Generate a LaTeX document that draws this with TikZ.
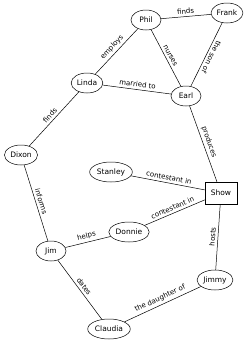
\documentclass[tikz,border=0pt]{standalone}
\usepackage{fontspec}
\setmainfont{DejaVu Sans}
\usetikzlibrary{shapes.geometric}

\begin{document}
\begin{tikzpicture}[x=1pt,y=-1pt,line width=0.5pt,
  person/.style={draw,ellipse,inner sep=1pt,minimum width=30pt,minimum height=20pt,font=\fontsize{7.5}{8}\selectfont},
  thing/.style={draw,rectangle,minimum width=32pt,minimum height=22pt,font=\fontsize{7.5}{8}\selectfont},
  rel/.style={sloped,above,inner sep=2.5pt,font=\fontsize{7}{8}\selectfont}]
  \useasboundingbox (0,0) rectangle (250,343);
  \node[person] (phil) at (146,20) {Phil};
  \node[person] (frank) at (227,13) {Frank};
  \node[person] (linda) at (87,83) {Linda};
  \node[person] (earl) at (186,96) {Earl};
  \node[person] (dixon) at (21,155) {Dixon};
  \node[person] (stanley) at (111,172) {Stanley};
  \node[thing] (show) at (221,193) {Show};
  \node[person] (donnie) at (129,232) {Donnie};
  \node[person] (jim) at (51,251) {Jim};
  \node[person] (jimmy) at (215,280) {Jimmy};
  \node[person] (claudia) at (109,329) {Claudia};
  \draw (phil) -- node[rel] {finds} (frank);
  \draw (linda) -- node[rel] {employs} (phil);
  \draw (phil) -- node[rel] {nurses} (earl);
  \draw (frank) -- node[rel,allow upside down] {the son of} (earl);
  \draw (linda) -- node[rel] {married to} (earl);
  \draw (dixon) -- node[rel] {finds} (linda);
  \draw (earl) -- node[rel] {produces} (show);
  \draw (stanley) -- node[rel] {contestant in} (show);
  \draw (dixon) -- node[rel] {informs} (jim);
  \draw (jim) -- node[rel] {helps} (donnie);
  \draw (donnie) -- node[rel] {contestant in} (show);
  \draw (jimmy) -- node[rel] {hosts} (show);
  \draw (jim) -- node[rel] {dates} (claudia);
  \draw (claudia) -- node[rel] {the daughter of} (jimmy);
\end{tikzpicture}
\end{document}
